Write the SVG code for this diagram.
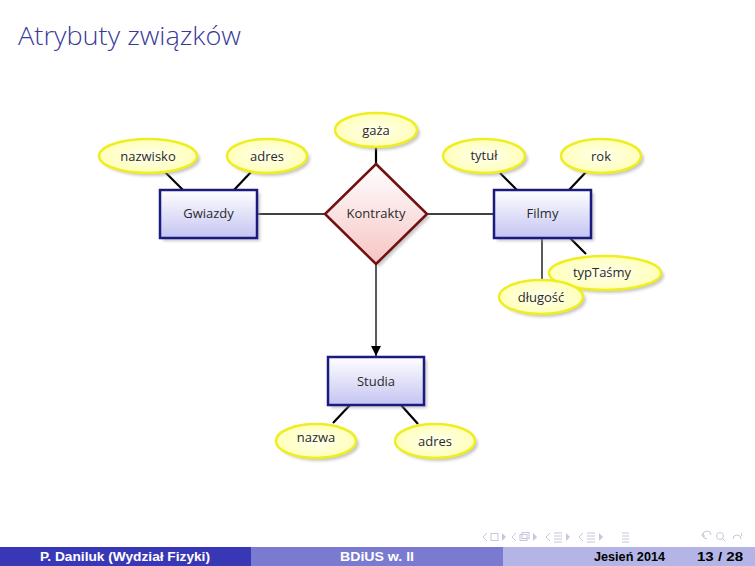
<svg xmlns="http://www.w3.org/2000/svg" width="755" height="566" viewBox="0 0 755 566">
<defs>
<linearGradient id="gEnt" x1="0" y1="0" x2="0" y2="1"><stop offset="0" stop-color="#ffffff"/><stop offset="1" stop-color="#c4c4f2"/></linearGradient>
<linearGradient id="gRel" x1="0" y1="0" x2="0" y2="1"><stop offset="0" stop-color="#ffffff"/><stop offset="1" stop-color="#f6c4c4"/></linearGradient>
<radialGradient id="gAtt" cx="0.5" cy="0.5" r="0.6"><stop offset="0" stop-color="#ffffee"/><stop offset="1" stop-color="#ffffb0"/></radialGradient>
<filter id="blur" x="-20%" y="-20%" width="140%" height="140%"><feGaussianBlur stdDeviation="1.5"/></filter>
<marker id="arr" viewBox="0 0 10 10" refX="10" refY="5" markerWidth="10" markerHeight="11" orient="auto" markerUnits="userSpaceOnUse"><path d="M0,0 L10,5 L0,10 z" fill="#000"/></marker>
</defs>
<style>
.title{font-family:"Open Sans","DejaVu Sans",sans-serif;font-size:25px;font-weight:300;fill:#3a3a98}
.lbl{font-family:"Open Sans","DejaVu Sans",sans-serif;font-size:13px;fill:#2a2a2a;text-anchor:middle}
.att{fill:url(#gAtt);stroke:#eeee22;stroke-width:2.5}
.ent{fill:url(#gEnt);stroke:#1a1a80;stroke-width:2.5}
.rel{fill:url(#gRel);stroke:#701010;stroke-width:2.5}
.sh{fill:#999;opacity:0.55;filter:url(#blur)}
.thick{stroke:#000;stroke-width:2.2;fill:none}
.thin{stroke:#000;stroke-width:1.3;fill:none}
.foot{font-family:"Liberation Sans",Arial,sans-serif;font-size:12.5px;font-weight:bold}
.nav{fill:none;stroke:#c6c6dc;stroke-width:1}
</style>
<rect width="755" height="566" fill="#ffffff"/>
<text class="title" x="18" y="45" textLength="223" lengthAdjust="spacingAndGlyphs">Atrybuty związków</text>

<g id="connectors">
<line class="thin" x1="257" y1="214" x2="325" y2="214"/>
<line class="thin" x1="427" y1="214" x2="494" y2="214"/>
<line class="thin" x1="376" y1="264" x2="376" y2="356" marker-end="url(#arr)"/>
<line class="thick" x1="165" y1="172" x2="183" y2="190"/>
<line class="thick" x1="251" y1="172" x2="234" y2="190"/>
<line class="thick" x1="376" y1="147" x2="376" y2="164"/>
<line class="thick" x1="500" y1="173" x2="517" y2="190"/>
<line class="thick" x1="586" y1="172" x2="569" y2="190"/>
<line class="thick" x1="570" y1="238" x2="586" y2="254"/>
<line class="thin" x1="542" y1="238" x2="542" y2="282"/>
<line class="thick" x1="350" y1="405" x2="333" y2="423"/>
<line class="thick" x1="401" y1="405" x2="418" y2="424"/>
</g>

<g id="Gwiazdy">
<rect class="sh" x="163" y="193" width="97" height="48"/>
<rect class="ent" x="160" y="190" width="97" height="48"/>
<text class="lbl" x="208.5" y="218">Gwiazdy</text>
</g>
<g id="Kontrakty">
<polygon class="sh" points="379,167 430,217 379,267 328,217"/>
<polygon class="rel" points="376,164 427,214 376,264 325,214"/>
<text class="lbl" x="376" y="218">Kontrakty</text>
</g>
<g id="Filmy">
<rect class="sh" x="497" y="193" width="97" height="48"/>
<rect class="ent" x="494" y="190" width="97" height="48"/>
<text class="lbl" x="542.5" y="218">Filmy</text>
</g>
<g id="Studia">
<rect class="sh" x="331" y="360" width="96" height="48"/>
<rect class="ent" x="328" y="357" width="96" height="48"/>
<text class="lbl" x="376" y="386">Studia</text>
</g>

<g id="nazwisko">
<ellipse class="sh" cx="151" cy="159" rx="49" ry="17"/>
<ellipse class="att" cx="148" cy="156" rx="49" ry="17"/>
<text class="lbl" x="148" y="161">nazwisko</text>
</g>
<g id="adres1">
<ellipse class="sh" cx="270" cy="159" rx="40" ry="17"/>
<ellipse class="att" cx="267" cy="156" rx="40" ry="17"/>
<text class="lbl" x="267" y="161">adres</text>
</g>
<g id="gaza">
<ellipse class="sh" cx="379" cy="133" rx="41" ry="17"/>
<ellipse class="att" cx="376" cy="130" rx="41" ry="17"/>
<text class="lbl" x="376" y="135">gaża</text>
</g>
<g id="tytul">
<ellipse class="sh" cx="487" cy="159" rx="41" ry="17"/>
<ellipse class="att" cx="484" cy="156" rx="41" ry="17"/>
<text class="lbl" x="484" y="160">tytuł</text>
</g>
<g id="rok">
<ellipse class="sh" cx="604" cy="159" rx="40" ry="17"/>
<ellipse class="att" cx="601" cy="156" rx="40" ry="17"/>
<text class="lbl" x="601" y="161">rok</text>
</g>
<g id="typTasmy">
<ellipse class="sh" cx="608" cy="276" rx="56" ry="17"/>
<ellipse class="att" cx="605" cy="273" rx="56" ry="17"/>
<text class="lbl" x="602" y="277">typTaśmy</text>
</g>
<g id="dlugosc">
<ellipse class="sh" cx="544" cy="300" rx="42" ry="17"/>
<ellipse class="att" cx="541" cy="297" rx="42" ry="17"/>
<text class="lbl" x="541" y="302">długość</text>
</g>
<g id="nazwa">
<ellipse class="sh" cx="319" cy="444" rx="40" ry="17"/>
<ellipse class="att" cx="316" cy="441" rx="40" ry="17"/>
<text class="lbl" x="316" y="442">nazwa</text>
</g>
<g id="adres2">
<ellipse class="sh" cx="438" cy="444" rx="40" ry="17"/>
<ellipse class="att" cx="435" cy="441" rx="40" ry="17"/>
<text class="lbl" x="435" y="446">adres</text>
</g>

<g id="navigation">
<path class="nav" d="M487,533 L483,537 L487,541"/>
<rect class="nav" x="491" y="533.5" width="7" height="7"/>
<path d="M502,533 L506,537 L502,541 z" fill="#c6c6dc"/>
<path class="nav" d="M516,533 L512,537 L516,541"/>
<rect class="nav" x="520" y="534.5" width="7" height="6"/>
<rect class="nav" x="522" y="532.5" width="7" height="6"/>
<path d="M533,533 L537,537 L533,541 z" fill="#c6c6dc"/>
<path class="nav" d="M550,533 L546,537 L550,541"/>
<path class="nav" d="M554,533 h8 M554,536 h8 M554,539 h8 M554,542 h8"/>
<path d="M566,533 L570,537 L566,541 z" fill="#c6c6dc"/>
<path class="nav" d="M583,533 L579,537 L583,541"/>
<path class="nav" d="M587,533 h8 M587,536 h8 M587,539 h8 M587,542 h8"/>
<path d="M599,533 L603,537 L599,541 z" fill="#c6c6dc"/>
<path class="nav" d="M622,533 h7 M622,536 h7 M622,539 h7 M622,542 h7"/>
<path class="nav" d="M707,539 a4,4 0 1,1 4,-4 M703,533 l-1,3 l3,0"/>
<circle class="nav" cx="720" cy="536" r="3.5"/>
<path class="nav" d="M722.5,538.5 l3,3"/>
<path class="nav" d="M733,539 a4,4 0 1,1 8,0 M741,533 l1,3"/>
</g>

<g id="footer">
<rect x="0" y="547" width="251" height="19" fill="#3838b6"/>
<rect x="251" y="547" width="252" height="19" fill="#7a7ad0"/>
<rect x="503" y="547" width="252" height="19" fill="#b4b4e6"/>
<text class="foot" x="40" y="561" fill="#ffffff" textLength="170" lengthAdjust="spacingAndGlyphs">P. Daniluk  (Wydział Fizyki)</text>
<text class="foot" x="340" y="561" fill="#ffffff" textLength="74" lengthAdjust="spacingAndGlyphs">BDiUS w. II</text>
<text class="foot" x="594" y="561" fill="#000000" textLength="71" lengthAdjust="spacingAndGlyphs">Jesień 2014</text>
<text class="foot" x="697" y="561" fill="#000000" textLength="46" lengthAdjust="spacingAndGlyphs">13 / 28</text>
</g>
</svg>
